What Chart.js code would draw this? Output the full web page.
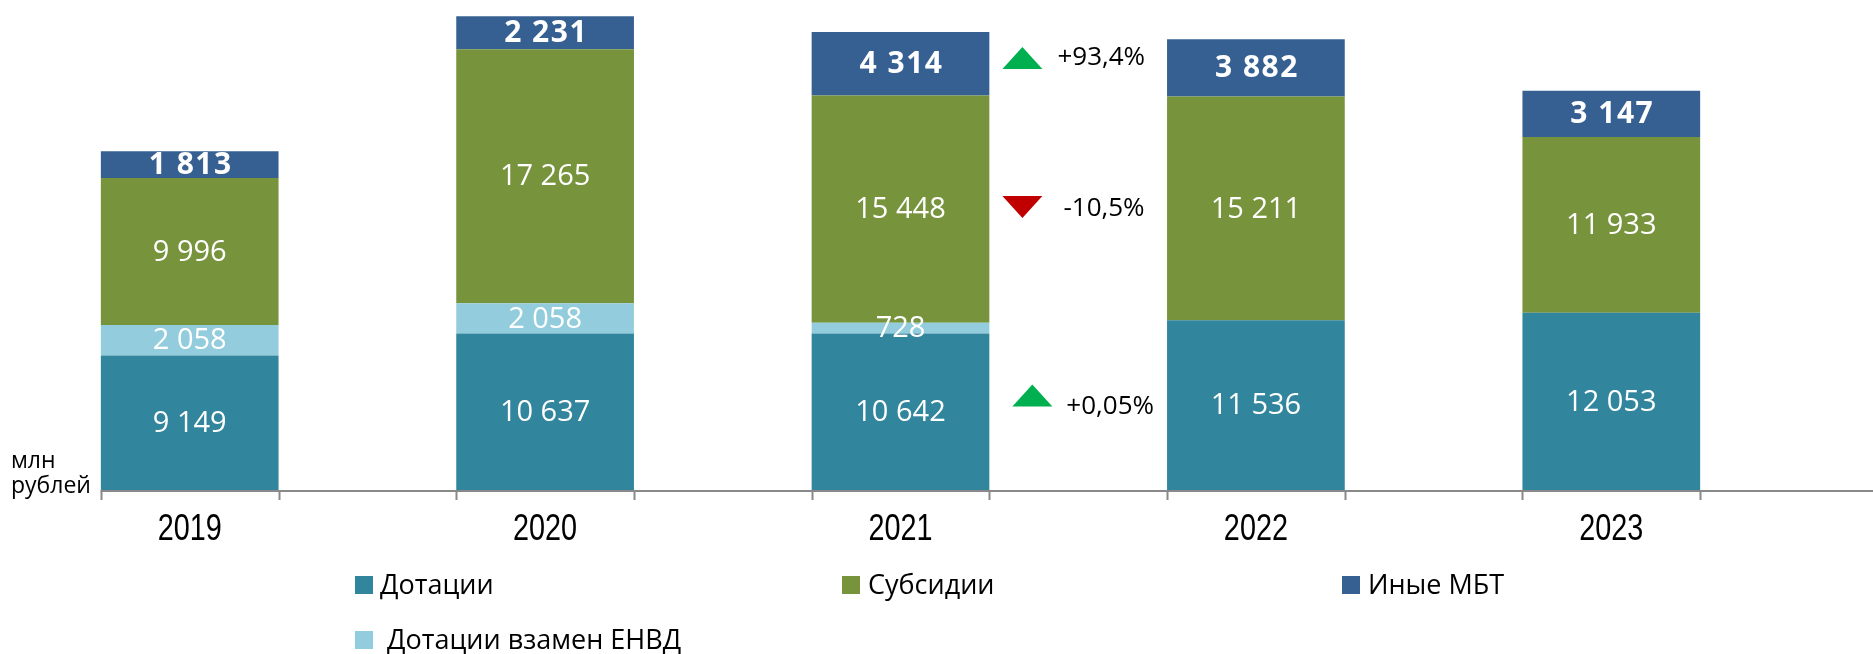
<!DOCTYPE html>
<html><head><meta charset="utf-8">
<script src="https://cdn.jsdelivr.net/npm/chart.js@4/dist/chart.umd.min.js"></script>
<style>html,body{margin:0;padding:0;background:#fff;overflow:hidden}#wrap{width:1873px;height:654px;position:relative}</style>
</head><body><div id="wrap"><canvas id="c" width="1873" height="654"></canvas></div>
<script>
// ---- data ----
const years = ['2019', '2020', '2021', '2022', '2023'];
const dotacii = [9149, 10637, 10642, 11536, 12053];
const dotaciiEnvd = [2058, 2058, 728, null, null];
const subsidii = [9996, 17265, 15448, 15211, 11933];
const inyeMbt = [1813, 2231, 4314, 3882, 3147];
const seriesNames = ['Дотации', 'Дотации взамен ЕНВД', 'Субсидии', 'Иные МБТ'];
const changeTexts = ['+93,4%', '-10,5%', '+0,05%'];
const changeDirs = ['up', 'down', 'up'];
const unitText = ['млн', 'рублей'];

// ---- styles ----
const colors = ['#31859C', '#93CDDD', '#77933C', '#376092'];
const labelFont = "'Open Sans', 'Noto Sans', sans-serif";
const yearFont = "'Liberation Sans', Arial, sans-serif";

function fmt(v) { return String(v).replace(/\B(?=(\d{3})+(?!\d))/g, ' '); }

const seriesData = [dotacii, dotaciiEnvd, subsidii, inyeMbt];
const datasets = seriesData.map((d, i) => ({
  label: seriesNames[i],
  data: d,
  backgroundColor: colors[i],
  borderWidth: 0,
  barPercentage: 0.5,
  categoryPercentage: 1.0
}));

const segLabels = {
  id: 'segLabels',
  afterDatasetsDraw(chart) {
    const ctx = chart.ctx;
    ctx.save();
    ctx.fillStyle = '#ffffff';
    ctx.textAlign = 'center';
    ctx.textBaseline = 'middle';
    chart.data.datasets.forEach((ds, di) => {
      const meta = chart.getDatasetMeta(di);
      const bold = di === 3;
      ctx.font = (bold ? 'bold 30px ' : '29px ') + labelFont;
      ctx.letterSpacing = bold ? '1.5px' : '0px';
      meta.data.forEach((el, i) => {
        const v = ds.data[i];
        if (v === null || v === undefined) return;
        const p = el.getCenterPoint();
        ctx.fillText(fmt(v), p.x + (bold ? 1 : 0), p.y + 1);
      });
    });
    ctx.restore();
  }
};

const axisDecor = {
  id: 'axisDecor',
  afterDraw(chart) {
    const ctx = chart.ctx;
    const y0 = chart.chartArea.bottom;
    const meta = chart.getDatasetMeta(0);
    const xs = chart.scales.x;
    ctx.save();
    ctx.strokeStyle = '#898989';
    ctx.lineWidth = 2;
    const first = meta.data[0];
    ctx.beginPath();
    ctx.moveTo(first.x - first.width / 2, y0 + 1);
    ctx.lineTo(chart.width, y0 + 1);
    ctx.stroke();
    meta.data.forEach(el => {
      [el.x - el.width / 2, el.x + el.width / 2].forEach(x => {
        const xx = Math.round(x) + 0.5;
        ctx.beginPath();
        ctx.moveTo(xx, y0);
        ctx.lineTo(xx, y0 + 10);
        ctx.stroke();
      });
    });
    // category labels (condensed)
    ctx.fillStyle = '#000';
    ctx.font = '36px ' + yearFont;
    ctx.textAlign = 'center';
    ctx.textBaseline = 'middle';
    xs.ticks.forEach((t, i) => {
      const x = xs.getPixelForTick(i);
      ctx.save();
      ctx.translate(x, y0 + 40);
      ctx.scale(0.8, 1);
      ctx.fillText(xs.getLabelForValue(t.value), 0, 0);
      ctx.restore();
    });
    // unit label
    ctx.font = '23px ' + labelFont;
    ctx.textAlign = 'left';
    ctx.textBaseline = 'alphabetic';
    ctx.fillText(unitText[0], 11, y0 - 22);
    ctx.fillText(unitText[1], 11, y0 + 3);
    ctx.restore();
  }
};

const changeMarks = {
  id: 'changeMarks',
  afterDraw(chart, args, opts) {
    const ctx = chart.ctx;
    const xs = chart.scales.x, ys = chart.scales.y;
    ctx.save();
    opts.items.forEach((it, i) => {
      const cx = xs.getPixelForValue(it.at);
      const cy = ys.getPixelForValue(it.level);
      const w = 40, h = 22;
      ctx.beginPath();
      if (changeDirs[i] === 'up') {
        ctx.fillStyle = '#00B050';
        ctx.moveTo(cx - w / 2, cy + h / 2);
        ctx.lineTo(cx + w / 2, cy + h / 2);
        ctx.lineTo(cx, cy - h / 2);
      } else {
        ctx.fillStyle = '#C00000';
        ctx.moveTo(cx - w / 2, cy - h / 2);
        ctx.lineTo(cx + w / 2, cy - h / 2);
        ctx.lineTo(cx, cy + h / 2);
      }
      ctx.closePath();
      ctx.fill();
      ctx.fillStyle = '#000';
      ctx.font = '26px ' + labelFont;
      ctx.textAlign = 'left';
      ctx.textBaseline = 'middle';
      ctx.fillText(changeTexts[i], cx + it.dx, cy + it.dy);
    });
    ctx.restore();
  }
};

const gridLegend = {
  id: 'gridLegend',
  afterDraw(chart, args, opts) {
    const ctx = chart.ctx;
    ctx.save();
    ctx.font = '27px ' + labelFont;
    ctx.textBaseline = 'middle';
    ctx.textAlign = 'left';
    opts.items.forEach(it => {
      const ds = chart.data.datasets[it.ds];
      ctx.fillStyle = ds.backgroundColor;
      ctx.fillRect(it.x, it.y - 9, 18, 18);
      ctx.fillStyle = '#000';
      ctx.fillText(ds.label, it.x + 18 + it.gap, it.y + 1);
    });
    ctx.restore();
  }
};

new Chart(document.getElementById('c'), {
  type: 'bar',
  data: { labels: years, datasets },
  plugins: [segLabels, axisDecor, changeMarks, gridLegend],
  options: {
    responsive: false,
    animation: false,
    devicePixelRatio: 1,
    layout: { padding: { left: 12, right: 84, top: 0, bottom: 104 } },
    plugins: {
      legend: { display: false },
      tooltip: { enabled: false },
      changeMarks: {
        items: [
          { at: 2.343, level: 29360, dx: 35, dy: 0 },
          { at: 2.343, level: 19230, dx: 41, dy: 2 },
          { at: 2.371, level: 6420, dx: 34, dy: 11 }
        ]
      },
      gridLegend: {
        items: [
          { ds: 0, x: 355, y: 585, gap: 7 },
          { ds: 2, x: 842, y: 585, gap: 8 },
          { ds: 3, x: 1342, y: 585, gap: 8 },
          { ds: 1, x: 355, y: 640, gap: 14 }
        ]
      }
    },
    scales: {
      x: {
        stacked: true,
        grid: { display: false, drawTicks: false },
        border: { display: false },
        ticks: { display: false },
        afterFit(scale) { scale.height = 60; }
      },
      y: {
        stacked: true,
        display: false,
        min: 0,
        max: 33300
      }
    }
  }
});
</script>
</body></html>
